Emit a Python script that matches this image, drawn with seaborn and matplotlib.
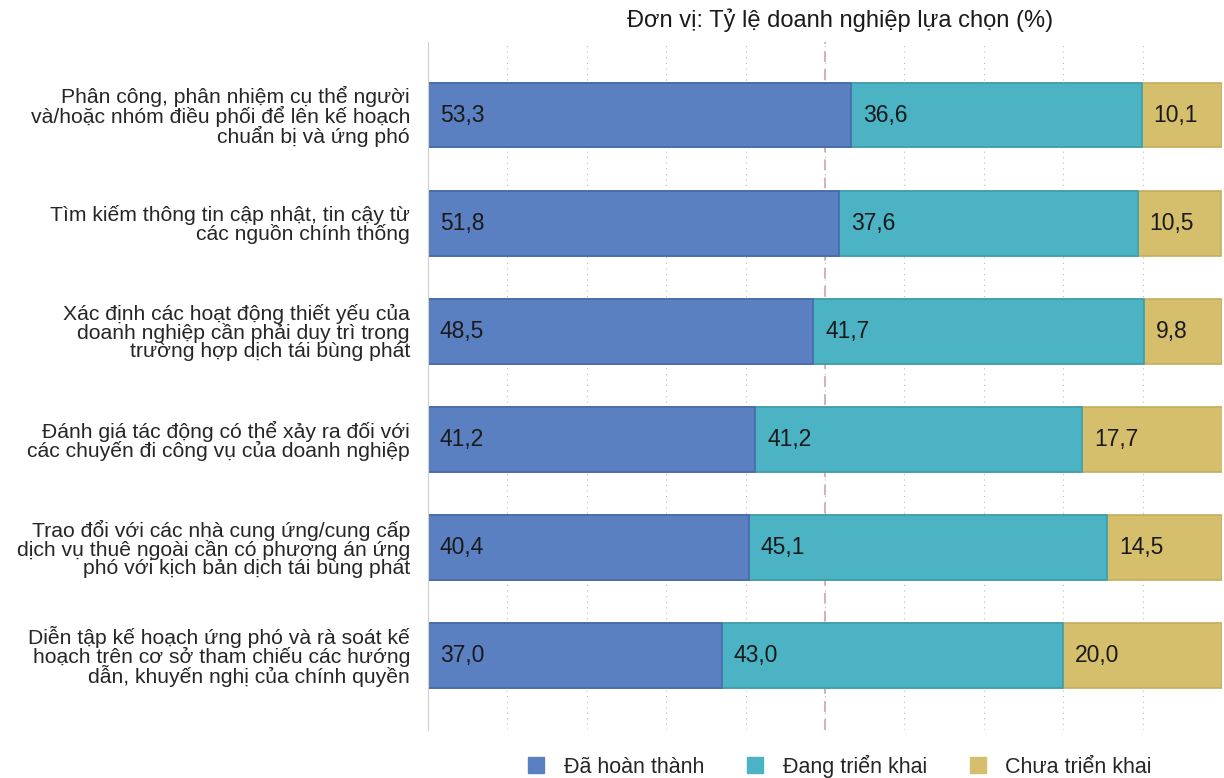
import matplotlib
matplotlib.use("Agg")
import matplotlib.pyplot as plt
import seaborn as sns
import pandas as pd
import numpy as np

categories = [
    "Phân công, phân nhiệm cụ thể người\nvà/hoặc nhóm điều phối để lên kế hoạch\nchuẩn bị và ứng phó",
    "Tìm kiếm thông tin cập nhật, tin cậy từ\ncác nguồn chính thống",
    "Xác định các hoạt động thiết yếu của\ndoanh nghiệp cần phải duy trì trong\ntrường hợp dịch tái bùng phát",
    "Đánh giá tác động có thể xảy ra đối với\ncác chuyến đi công vụ của doanh nghiệp",
    "Trao đổi với các nhà cung ứng/cung cấp\ndịch vụ thuê ngoài cần có phương án ứng\nphó với kịch bản dịch tái bùng phát",
    "Diễn tập kế hoạch ứng phó và rà soát kế\nhoạch trên cơ sở tham chiếu các hướng\ndẫn, khuyến nghị của chính quyền",
]
series_names = ["Đã hoàn thành", "Đang triển khai", "Chưa triển khai"]
done = [53.3, 51.8, 48.5, 41.2, 40.4, 37.0]
ongoing = [36.6, 37.6, 41.7, 41.2, 45.1, 43.0]
notyet = [10.1, 10.5, 9.8, 17.7, 14.5, 20.0]
title = "Đơn vị: Tỷ lệ doanh nghiệp lựa chọn (%)"

colors = ["#5b80c1", "#4bb3c4", "#d5bf6d"]
edges = ["#4a6aa8", "#3a9fb0", "#c4ad5c"]

sns.set_theme(style="white")
plt.rcParams['font.family'] = ['Liberation Sans', 'DejaVu Sans']

df = pd.DataFrame({"cat": categories, "done": done, "ongoing": ongoing, "notyet": notyet})
df["c1"] = df["done"]
df["c2"] = df["done"] + df["ongoing"]
df["c3"] = df["c2"] + df["notyet"]

fig = plt.figure(figsize=(12.24, 7.78), dpi=100)
ax = fig.add_axes([428/1224, 1-730/778, (1222-428)/1224, (730-42)/778])

for col, c, e in zip(["c3", "c2", "c1"], colors[::-1], edges[::-1]):
    sns.barplot(data=df, y="cat", x=col, orient="h", color=c, edgecolor=e,
                linewidth=1.2, width=0.6, ax=ax, saturation=1)

for i in range(len(categories)):
    starts = [0, done[i], done[i] + ongoing[i]]
    vals = [done[i], ongoing[i], notyet[i]]
    for s, v in zip(starts, vals):
        ax.text(s + 1.5, i, f"{v:.1f}".replace(".", ","), va="center", ha="left",
                fontsize=16.5, color="#1a1a1a")

ax.set_xlim(0, 100)
ax.set_ylim(5.69, -0.676)
ax.set_xticks(np.arange(0, 101, 10))
ax.xaxis.grid(True, linestyle=(0, (1, 4)), color="#bbbbbb", linewidth=0.8)
ax.set_axisbelow(True)
ax.axvline(50, color="#d8a8b4", linestyle=(0, (6, 4)), linewidth=1.3, zorder=0.5)
ax.set_xticklabels([])
ax.tick_params(axis="x", length=0)
ax.tick_params(axis="y", length=0, labelsize=15.2, pad=13)
for lbl in ax.get_yticklabels():
    lbl.set_linespacing(0.92)
ax.set_xlabel("")
ax.set_ylabel("")
for sp in ["top", "right", "bottom"]:
    ax.spines[sp].set_visible(False)
ax.spines["left"].set_color("#d0d0d0")
ax.spines["left"].set_linewidth(0.8)

fig.text(840/1224, 1-20/778, title, ha="center", va="center", fontsize=17, color="#1a1a1a")

from matplotlib.patches import Patch
handles = [Patch(facecolor=c, edgecolor=c) for c in colors]
fig.legend(handles, series_names, loc="center", bbox_to_anchor=(840/1224, 1-766/778),
           ncol=3, frameon=False, fontsize=15.5, handlelength=0.75, handleheight=0.75,
           columnspacing=2.0, handletextpad=0.9)

fig.savefig("out.png", dpi=100)
